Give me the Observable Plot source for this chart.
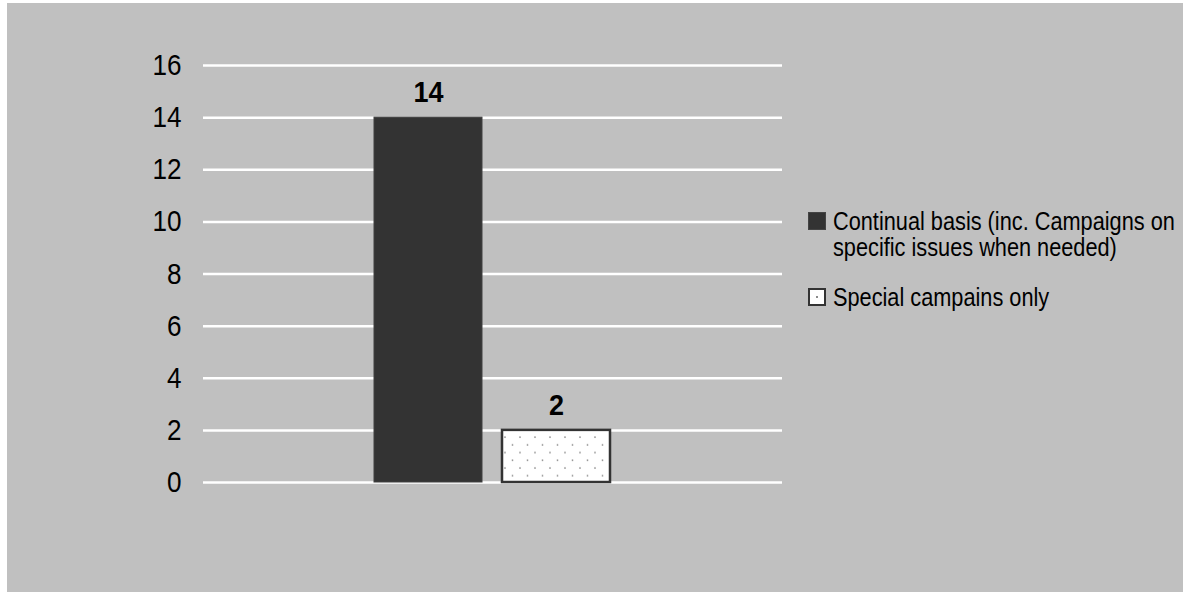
<!DOCTYPE html>
<html>
<head>
<meta charset="utf-8">
<script src="https://cdn.jsdelivr.net/npm/d3@7"></script>
<script src="https://cdn.jsdelivr.net/npm/@observablehq/plot@0.6"></script>
<style>
  html, body { margin: 0; padding: 0; background: #ffffff; }
  #wrap { position: relative; width: 1183px; height: 592px; overflow: hidden; }
  #chart { position: absolute; left: 7px; top: 3px; }
  #legend { position: absolute; left: 808px; top: 208px; width: 375px;
            font-family: 'Liberation Sans', Arial, sans-serif;
            font-size: 26.5px; line-height: 26px; color: #000; }
  .item { display: flex; align-items: flex-start; margin-bottom: 24px; }
  .sw { width: 18px; height: 18px; box-sizing: border-box; flex: none; margin-top: 4px; margin-right: 7px; }
  .txtbox { width: 350px; }
  .txt { width: 427px; transform: scaleX(0.82); transform-origin: left top; white-space: normal; }
</style>
</head>
<body>
<div id="wrap">
  <div id="chart"></div>
  <div id="legend"></div>
</div>
<script>
// ---- data ----
const seriesNames = [
  "Continual basis (inc. Campaigns on specific issues when needed)",
  "Special campains only"
];
const seriesValues = [14, 2];
const yTicks = [0, 2, 4, 6, 8, 10, 12, 14, 16];

const data = seriesNames.map((s, i) => ({series: s, value: seriesValues[i]}));

const FONT = "'Liberation Sans', Arial, sans-serif";

const chart = Plot.plot({
  width: 1176,
  height: 589,
  marginTop: 62,
  marginBottom: 110,
  marginLeft: 196,
  marginRight: 401,
  style: {background: "#c0c0c0", fontFamily: FONT, fontSize: "30px", color: "#000", overflow: "visible"},
  x: {domain: seriesNames, axis: null, paddingInner: 0.155, paddingOuter: 1.3255},
  y: {domain: [0, 16], axis: null},
  marks: [
    Plot.gridY(yTicks, {stroke: "#ffffff", strokeOpacity: 1, strokeWidth: 2.5}),
    Plot.axisY(yTicks, {tickSize: 0, tickPadding: 22, fontSize: 30, fill: "#000", label: null}),
    Plot.barY(data.filter((d, i) => i === 0), {x: "series", y: "value", fill: "#333333", stroke: "#404040", strokeWidth: 1}),
    Plot.barY(data.filter((d, i) => i === 1), {x: "series", y: "value", fill: "url(#dots)", stroke: "#333333", strokeWidth: 2.5}),
    Plot.text(data, {x: "series", y: "value", text: d => String(d.value), dy: -25, fontSize: 30, fontWeight: "bold", fill: "#000"})
  ]
});

// dotted pattern for the second series
const svg = d3.select(chart);
const defs = svg.insert("defs", ":first-child");
const pat = defs.append("pattern").attr("id", "dots").attr("patternUnits", "userSpaceOnUse")
  .attr("width", 15).attr("height", 15.4);
pat.append("rect").attr("width", 15).attr("height", 15.4).attr("fill", "#ffffff");
pat.append("circle").attr("cx", 3).attr("cy", 3).attr("r", 0.9).attr("fill", "#8a8a8a");
pat.append("circle").attr("cx", 10.5).attr("cy", 10.7).attr("r", 0.9).attr("fill", "#8a8a8a");

// narrow the glyphs (the reference uses a condensed face)
svg.selectAll("text").each(function() {
  const bold = this.closest('[font-weight="bold"]') !== null;
  const s = bold ? 0.9 : 0.87;
  const x = +(this.getAttribute("x") || 0);
  this.removeAttribute("x");
  const t = this.getAttribute("transform") || "";
  this.setAttribute("transform", `${t} translate(${x},0) scale(${s},1)`);
});

document.getElementById("chart").appendChild(chart);

// legend
const legend = d3.select("#legend");
seriesNames.forEach((name, i) => {
  const item = legend.append("div").attr("class", "item");
  const sw = item.append("div").attr("class", "sw");
  if (i === 0) {
    sw.style("background", "#333333").style("border", "1px solid #444444");
  } else {
    sw.style("background", "#ffffff").style("border", "2.5px solid #333333")
      .style("display", "flex").style("align-items", "center").style("justify-content", "center");
    sw.append("div").style("width", "2px").style("height", "2px").style("background", "#8a8a8a");
  }
  item.append("div").attr("class", "txtbox").append("div").attr("class", "txt").text(name);
});
</script>
</body>
</html>
